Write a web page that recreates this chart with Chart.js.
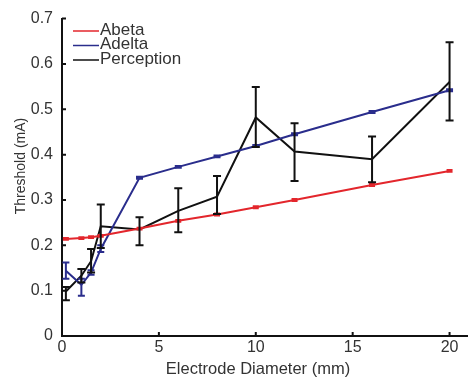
<!DOCTYPE html>
<html>
<head>
<meta charset="utf-8">
<script src="https://cdn.jsdelivr.net/npm/chart.js@4"></script>
<style>
  html, body { margin: 0; padding: 0; background: #fff; }
  #wrap { width: 468px; height: 379px; }
</style>
</head>
<body>
<div id="wrap"><canvas id="lineChart" width="468" height="379"></canvas></div>
<script>
// Data
const diameters = [0.2, 1, 1.5, 2, 4, 6, 8, 10, 12, 16, 20];

const abeta = [0.214, 0.216, 0.218, 0.221, 0.237, 0.254, 0.268, 0.284, 0.300, 0.333, 0.364];
const abetaLow = [0.212, 0.214, 0.216, 0.219, 0.235, 0.252, 0.266, 0.282, 0.298, 0.331, 0.362];
const abetaHigh = [0.216, 0.218, 0.220, 0.223, 0.239, 0.256, 0.270, 0.286, 0.302, 0.335, 0.366];

const adelta = [0.144, 0.113, 0.140, 0.192, 0.349, 0.373, 0.396, 0.419, 0.445, 0.494, 0.542];
const adeltaLow = [0.126, 0.089, 0.135, 0.185, 0.347, 0.371, 0.394, 0.417, 0.443, 0.492, 0.540];
const adeltaHigh = [0.162, 0.126, 0.145, 0.200, 0.351, 0.375, 0.398, 0.421, 0.447, 0.496, 0.544];

const perception = [0.098, 0.133, 0.165, 0.242, 0.235, 0.276, 0.307, 0.482, 0.407, 0.390, 0.560];
const perceptionLow = [0.079, 0.118, 0.140, 0.194, 0.200, 0.229, 0.269, 0.417, 0.342, 0.339, 0.475];
const perceptionHigh = [0.108, 0.148, 0.192, 0.290, 0.262, 0.326, 0.353, 0.549, 0.469, 0.440, 0.648];

const xTicks = [0, 5, 10, 15, 20];
const yTicks = [0, 0.1, 0.2, 0.3, 0.4, 0.5, 0.6, 0.7];

const xTitle = "Electrode Diameter (mm)";
const yTitle = "Threshold (mA)";

const FONT = "'Liberation Sans', Arial, sans-serif";
const TEXT = "#333";

const toPoints = (ys) => diameters.map((x, i) => ({ x: x, y: ys[i] }));

// error bars, inward ticks, titles, legend
const extras = {
  id: "extras",
  afterDatasetsDraw(chart) {
    const c = chart.ctx;
    const xs = chart.scales.x, ys = chart.scales.y;
    chart.data.datasets.forEach((ds) => {
      c.save();
      c.strokeStyle = ds.borderColor;
      c.lineWidth = ds.errWidth;
      ds.data.forEach((p, i) => {
        const px = xs.getPixelForValue(p.x);
        const lo = ys.getPixelForValue(ds.errLow[i]);
        const hi = ys.getPixelForValue(ds.errHigh[i]);
        const w = ds.capWidth;
        c.beginPath();
        c.moveTo(px, lo); c.lineTo(px, hi);
        c.moveTo(px - w, lo); c.lineTo(px + w, lo);
        c.moveTo(px - w, hi); c.lineTo(px + w, hi);
        c.stroke();
      });
      c.restore();
    });
  },
  afterDraw(chart) {
    const c = chart.ctx;
    const xs = chart.scales.x, ys = chart.scales.y;
    const a = chart.chartArea;
    c.save();
    c.strokeStyle = "#111";
    c.lineWidth = 2;
    c.beginPath();
    yTicks.forEach((v) => {
      const py = ys.getPixelForValue(v);
      c.moveTo(a.left, py); c.lineTo(a.left + 4, py);
    });
    xTicks.forEach((v) => {
      const px = xs.getPixelForValue(v);
      c.moveTo(px, a.bottom); c.lineTo(px, a.bottom - 4);
    });
    c.stroke();

    // axis titles
    c.fillStyle = TEXT;
    c.textAlign = "center";
    c.textBaseline = "middle";
    c.font = "16.5px " + FONT;
    c.fillText(xTitle, 258, 369);
    c.save();
    c.translate(21, 166);
    c.rotate(-Math.PI / 2);
    c.font = "14px " + FONT;
    c.fillText(yTitle, 0, 0);
    c.restore();

    // legend
    c.font = "17px " + FONT;
    c.textAlign = "left";
    chart.data.datasets.forEach((ds, i) => {
      const y = 31 + i * 14.5;
      c.strokeStyle = ds.borderColor;
      c.lineWidth = 1.5;
      c.beginPath();
      c.moveTo(73, y); c.lineTo(99, y);
      c.stroke();
      c.fillText(ds.label, 100, y - 1);
    });
    c.restore();
  },
};

const ctx = document.getElementById("lineChart");

const chart = new Chart(ctx, {
  type: "line",
  data: {
    datasets: [
      {
        label: "Abeta",
        data: toPoints(abeta),
        errLow: abetaLow,
        errHigh: abetaHigh,
        borderColor: "#e3262c",
        borderWidth: 2,
        errWidth: 2,
        capWidth: 3,
        pointRadius: 0,
        tension: 0,
      },
      {
        label: "Adelta",
        data: toPoints(adelta),
        errLow: adeltaLow,
        errHigh: adeltaHigh,
        borderColor: "#2a2d8c",
        borderWidth: 2,
        errWidth: 2,
        capWidth: 3.5,
        pointRadius: 0,
        tension: 0,
      },
      {
        label: "Perception",
        data: toPoints(perception),
        errLow: perceptionLow,
        errHigh: perceptionHigh,
        borderColor: "#111111",
        borderWidth: 2,
        errWidth: 2,
        capWidth: 4,
        pointRadius: 0,
        tension: 0,
      },
    ],
  },
  options: {
    responsive: false,
    animation: false,
    layout: { padding: { top: 15, right: 1, left: 0, bottom: 0 } },
    plugins: { legend: { display: false }, tooltip: { enabled: false } },
    scales: {
      x: {
        type: "linear",
        min: 0,
        max: 20.9,
        afterBuildTicks: (s) => { s.ticks = xTicks.map((v) => ({ value: v })); },
        afterFit: (s) => { s.height = 43; },
        grid: { display: false, drawTicks: false },
        border: { display: true, color: "#111", width: 2 },
        ticks: {
          color: TEXT,
          padding: 2,
          maxRotation: 0,
          font: { family: FONT, size: 16 },
        },
      },
      y: {
        min: 0,
        max: 0.7,
        afterBuildTicks: (s) => { s.ticks = yTicks.map((v) => ({ value: v })); },
        afterFit: (s) => { s.width = 62; },
        grid: { display: false, drawTicks: false },
        border: { display: true, color: "#111", width: 2 },
        ticks: {
          color: TEXT,
          padding: 9,
          callback: (v) => (v === 0 ? "0" : v.toFixed(1)),
          font: { family: FONT, size: 16 },
        },
      },
    },
  },
  plugins: [extras],
});
</script>
</body>
</html>
